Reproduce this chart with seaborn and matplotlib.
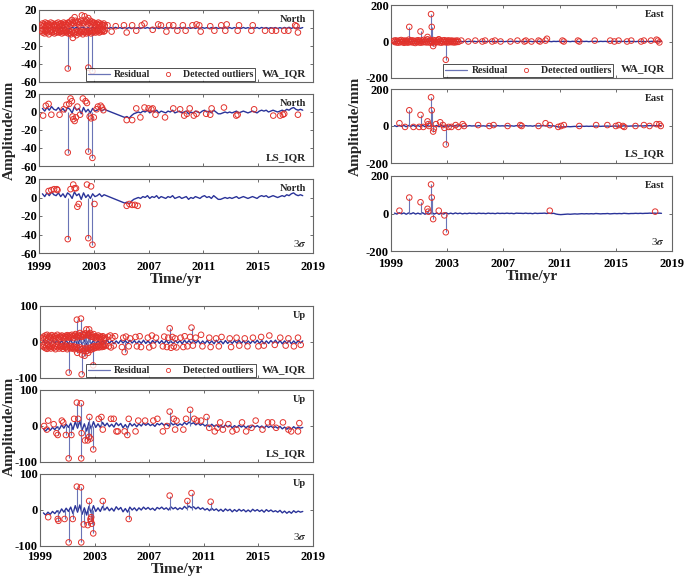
import numpy as np
import pandas as pd
import seaborn as sns
import matplotlib.pyplot as plt
from matplotlib.lines import Line2D

# residuals sampled every two months, 1999.25 .. 2018.25 (115 samples)
time = 1999.25 + np.arange(115) / 6

north_ls = [4, 1, 5, 2, 6, 3,
            2, 5, 1, 4, 0, 5,
            3, -1, 6, 2, 4, -2,
            5, 0, 3, -1, 4, 1,
            2, 4, 1, 3, 2, 1,
            0, -1, -2, -3, -4, -5,
            -6, -5, -7, -4, -2, -1,
            0, -1, 1, 0, 2, -1,
            1, 0, 2, -1, 1, 0,
            -1, 1, 0, 2, -1, 0,
            1, -1, 0, 1, -2, 0,
            -1, 1, 0, -1, 1, 2,
            0, 1, -1, 2, 0, -2,
            -2, -1, 0, -1, 0, -1,
            0, 1, -1, 0, 1, 0,
            -1, 0, 1, 0, -1, 1,
            2, 1, 2, 0, 1, 2,
            1, 0, 1, 2, 1, 3,
            2, 4, 5, 3, 2, 3,
            2]
north_wa = [1, -1, 0.5, -0.5, 1, -1,
            0.5, -1, 1, -0.5, 1.5, -1,
            -1, 1, -0.5, 1, -1, 0.5,
            1, -1.5, 0.5, -1, 1, -0.5,
            0.5, -0.5, 1, -1, 0.5, -0.5,
            0.5, -0.5, 0.8, -0.3, 0.4, -0.6,
            0.6, -0.4, 0.5, -0.7, 0.3, -0.5,
            0.4, -0.6, 0.7, -0.3, 0.5, -0.4,
            0.5, -0.5, 0.3, -0.6, 0.6, -0.4,
            0.4, -0.3, 0.6, -0.5, 0.4, -0.6,
            0.5, -0.4, 0.7, -0.5, 0.3, -0.4,
            0.6, -0.5, 0.4, -0.6, 0.5, -0.3,
            0.4, -0.6, 0.5, -0.4, 0.6, -0.5,
            0.3, -0.5, 0.6, -0.4, 0.5, -0.6,
            0.5, -0.3, 0.4, -0.5, 0.6, -0.4,
            0.4, -0.5, 0.6, -0.3, 0.5, -0.6,
            0.6, -0.4, 0.5, -0.5, 0.4, -0.3,
            0.5, -0.6, 0.4, -0.5, 0.6, -0.4,
            0.8, -0.5, 0.6, -0.7, 0.5, -0.4,
            0.5]
east_ls = [2, -3, 4, -2, 3, -4,
           3, -2, 4, -3, 2, -3,
           4, -4, 3, -2, 5, -3,
           3, -4, 2, -3, 4, -2,
           2, -2, 3, -1, 2, -2,
           1, -1, 2, 0, 1, -1,
           2, 0, 1, -1, 2, 0,
           1, -1, 2, 0, 1, 0,
           2, 0, 1, -1, 2, 1,
           1, 0, 2, 0, 1, -1,
           2, 0, 1, 1, 2, 0,
           2, 0, 1, -3, -5, -6,
           -5, -4, -3, -4, -3, -2,
           -3, -2, -1, -2, -1, -2,
           -1, -2, 0, -1, -2, -1,
           -1, 0, -2, -1, 0, -1,
           0, -1, 1, 0, -1, 0,
           0, 1, 0, 1, 0, 1,
           1, 2, 1, 2, 1, 2,
           1]
east_wa = [2, -2, 3, -1, 2, -3,
           2, -2, 3, -2, 1, -2,
           3, -3, 2, -1, 3, -2,
           2, -3, 1, -2, 3, -1,
           1, -1, 2, -1, 1, -1,
           1, -1, 1, 0, 1, -1,
           1, 0, 1, -1, 1, 0,
           1, -1, 1, 0, 1, -1,
           1, 0, 1, -1, 1, 0,
           1, -1, 1, 0, 1, -1,
           1, 0, 1, -1, 1, 0,
           1, -1, 1, 0, 1, -1,
           1, 0, 1, -1, 1, 0,
           1, -1, 1, 0, 1, -1,
           1, 0, 1, -1, 1, 0,
           1, -1, 1, 0, 1, -1,
           1, 0, 1, -1, 1, 0,
           1, -1, 1, 0, 1, -1,
           1, 0, 1, -1, 1, 0,
           1]
up_ls = [-8, -14, -6, -12, -4, -10,
         -2, -9, 3, -6, 5, -4,
         8, -10, 12, -6, 14, -12,
         6, -14, 10, -8, 12, -4,
         6, -4, 10, 0, 8, -2,
         5, -3, 9, 1, 7, -5,
         4, -6, 8, 0, 6, -2,
         6, 0, 8, 2, 7, 1,
         5, -1, 7, 3, 8, 2,
         6, 0, 9, 3, 7, 1,
         6, 2, 10, 4, 11, 6,
         9, 3, 8, 2, 6, 0,
         4, -2, 5, -1, 3, -3,
         2, -4, 3, -2, 2, -5,
         1, -4, 2, -3, 1, -5,
         0, -5, 2, -3, 1, -4,
         0, -6, 1, -4, 0, -5,
         -2, -6, -1, -8, -3, -9,
         -4, -9, -2, -7, -3, -6,
         -4]
up_wa = [4, -5, 3, -6, 5, -4,
         6, -5, 4, -7, 5, -6,
         7, -8, 6, -9, 8, -7,
         6, -8, 7, -6, 5, -7,
         5, -6, 4, -5, 6, -4,
         4, -5, 3, -4, 5, -3,
         4, -4, 5, -3, 4, -5,
         3, -4, 5, -4, 3, -5,
         4, -3, 5, -4, 4, -5,
         5, -4, 3, -5, 4, -3,
         4, -5, 5, -3, 4, -4,
         5, -3, 4, -5, 3, -4,
         4, -4, 3, -5, 5, -3,
         3, -5, 4, -4, 3, -4,
         4, -3, 5, -4, 4, -5,
         3, -4, 4, -3, 5, -4,
         4, -5, 3, -4, 4, -3,
         5, -4, 4, -5, 3, -4,
         4, -5, 3, -4, 4, -3,
         3]

# dense early cluster of WA_IQR detections (upper and lower rows)
cluster_t = [1999.2, 1999.27, 1999.33, 1999.4, 1999.46, 1999.52, 1999.6, 1999.66, 1999.72, 1999.8,
             1999.86, 1999.93, 2000.0, 2000.07, 2000.13, 2000.2, 2000.27, 2000.33, 2000.4, 2000.47,
             2000.53, 2000.6, 2000.67, 2000.73, 2000.8, 2000.87, 2000.93, 2001.0, 2001.07, 2001.13,
             2001.2, 2001.27, 2001.33, 2001.4, 2001.47, 2001.53, 2001.6, 2001.67, 2001.73, 2001.8,
             2001.87, 2001.93, 2002.0, 2002.07, 2002.13, 2002.2, 2002.27, 2002.33, 2002.4, 2002.47,
             2002.53, 2002.6, 2002.67, 2002.73, 2002.8, 2002.87, 2002.93, 2003.0, 2003.07, 2003.13,
             2003.2, 2003.27, 2003.33, 2003.4, 2003.47, 2003.53, 2003.6, 2003.67, 2003.73, 2003.8]
north_wa_hi = [3, 5, 2, 4, 6, 3, 5, 2, 4, 3, 6, 2, 5, 3, 4, 2, 5, 3, 6, 4,
               2, 5, 3, 4, 6, 3, 5, 4, 3, 6, 5, 7, 4, 9, 6, 5, 12, 8, 6, 5,
               7, 4, 6, 8, 14, 6, 5, 13, 7, 9, 5, 11, 6, 8, 4, 7, 5, 6, 4, 3,
               5, 4, 6, 3, 5, 2, 4, 3, 5, 3]
north_wa_lo = [-3, -5, -2, -6, -4, -3, -5, -2, -7, -4, -3, -5, -2, -4, -6, -3, -5, -4, -2, -5,
               -3, -4, -6, -3, -5, -4, -3, -5, -4, -6, -3, -5, -7, -4, -11, -5, -6, -4, -8, -5,
               -3, -6, -4, -5, -3, -7, -4, -5, -3, -6, -4, -5, -3, -4, -6, -3, -5, -4, -3, -5,
               -2, -4, -3, -5, -2, -4, -3, -2, -4, -3]
east_wa_mid = [4, -3, 6, -5, 3, -6, 5, -4, 8, -3, 4, -7, 5, -4, 3, -6, 10, -3, 5, -4,
               6, -5, 3, -8, 4, -3, 7, -5, 4, -6, 5, -4, 9, -3, 6, -5, 12, -4, 5, -6,
               4, -3, 8, -10, 5, -4, 6, -3, 12, -5, 4, -6, 5, -3, 7, -4, 3, -5, 6, -4,
               4, -3, 5, -4, 3, -5, 4, -3, 5, -2]
up_wa_hi = [10, 15, 8, 18, 12, 20, 9, 14, 16, 11, 19, 8, 13, 17, 10, 15, 20, 12, 9, 16,
            14, 18, 11, 15, 10, 17, 13, 19, 15, 12, 18, 14, 20, 16, 11, 18, 22, 15, 13, 20,
            17, 25, 16, 14, 22, 19, 18, 24, 35, 20, 22, 17, 25, 15, 19, 14, 22, 12, 16, 10,
            14, 18, 11, 15, 9, 13, 16, 10, 12, 8]
up_wa_lo = [-10, -14, -8, -17, -12, -19, -9, -15, -11, -18, -13, -8, -16, -12, -20, -10, -14, -9, -18, -12,
            -15, -11, -19, -13, -9, -16, -12, -20, -14, -10, -17, -13, -18, -15, -12, -20, -16, -14, -30, -18,
            -22, -15, -20, -35, -18, -25, -38, -20, -16, -24, -30, -18, -22, -15, -20, -13, -18, -11, -16, -12,
            -14, -10, -15, -12, -9, -14, -11, -13, -8, -10]

# sparse / spike detections
north_wa_t = [2001.1, 2002.6, 2002.9,
              2004.0, 2004.3, 2004.6, 2005.2, 2005.4, 2005.8, 2006.1, 2006.5, 2006.7, 2007.3,
              2007.7, 2007.9, 2008.3, 2008.5, 2008.8, 2009.1, 2009.5, 2009.7, 2010.2, 2010.5,
              2010.7, 2010.8, 2011.5, 2011.8, 2012.3, 2012.6, 2012.7, 2013.5, 2013.6, 2014.5,
              2014.6, 2015.5, 2016.0, 2016.3, 2016.9, 2017.2, 2017.7, 2017.8, 2017.9]
north_wa_v = [-45, -44, -48,
              3, -4, 2, 3, -5, 3, -3, 3, 5, -2,
              4, 3, -4, 3, 3, -3, 3, -3, 3, 4,
              3, -4, 2, -3, 3, -3, 4, -3, 3, -3,
              3, -3, -3, -3, -3, -3, 3, 2, -5]
north_ls_t = [1999.3, 1999.5, 1999.7, 1999.9, 2000.5, 2000.8, 2001.0, 2001.1, 2001.2, 2001.3,
              2001.4, 2001.45, 2001.5, 2001.6, 2001.7, 2001.8, 2002.0, 2002.2, 2002.4, 2002.5,
              2002.6, 2002.7, 2002.8, 2002.9, 2003.0, 2003.2, 2003.3, 2003.5, 2003.6, 2003.7,
              2005.4, 2005.8, 2006.1, 2006.4, 2006.7, 2007.0, 2007.2, 2007.3, 2007.5, 2008.2,
              2008.8, 2009.3, 2009.6, 2009.8, 2010.0, 2010.3, 2010.5, 2011.2, 2011.5, 2011.6,
              2012.5, 2013.4, 2013.5, 2014.7, 2016.1, 2016.6, 2016.8, 2016.9, 2017.9]
north_ls_v = [-4, 7, 9, -3, -3, 3, 8, -45, 9, 15,
              12, -5, -8, -10, -6, 6, -3, 15, 12, 10,
              -44, -5, -7, -51, -6, 3, 6, 7, 5, 2,
              -9, -9, 4, -6, 5, 4, 3, 4, -3, -6,
              4, 3, -4, -2, 4, -4, -2, -2, -3, 4,
              5, -4, -3, 3, -4, -4, -3, -2, -3]
north_3s_t = [1999.7, 1999.9, 2000.1, 2000.3, 2000.35, 2001.1, 2001.3, 2001.5, 2001.6, 2001.7,
              2001.8, 2001.9, 2002.5, 2002.6, 2002.8, 2002.9, 2003.05, 2005.4, 2005.6, 2005.8,
              2006.0, 2006.2]
north_3s_v = [7, 8, 9, 9, 8, -45, 9, 14, 10, 10,
              -10, -7, 14, -44, 12, -51, -7, -9, -7, -8,
              -8, -9]

east_wa_t = [2000.3, 2001.1, 2001.6, 2001.85, 2001.9, 2002.0, 2002.4, 2002.9,
             2004.0, 2004.5, 2005.0, 2005.5, 2005.7, 2006.2, 2006.4, 2006.8, 2007.5, 2008.0,
             2008.5, 2008.6, 2009.0, 2009.5, 2009.6, 2010.0, 2010.1, 2011.2, 2011.3, 2012.3,
             2012.4, 2013.5, 2014.6, 2014.9, 2015.2, 2015.8, 2016.1, 2016.8, 2017.0, 2017.5,
             2017.9, 2018.0, 2018.1]
east_wa_v = [80, 55, 25, 150, 80, -25, 10, -100,
             5, 0, 5, 0, 5, 0, 5, 0, 0, 5,
             0, 5, 0, 5, 0, 5, 15, 5, 0, 5,
             0, 5, 5, 0, 5, 0, 5, 0, 5, 5,
             10, 5, -5]
east_ls_t = [1999.6, 2000.0, 2000.3, 2000.6, 2001.0, 2001.1, 2001.3, 2001.6, 2001.65, 2001.7,
             2001.85, 2001.9, 2002.0, 2002.05, 2002.2, 2002.5, 2002.7, 2002.8, 2002.9, 2003.1,
             2003.3, 2003.6, 2003.8, 2004.1, 2004.2, 2005.2, 2006.0, 2006.3, 2007.3, 2008.2,
             2008.3, 2009.5, 2010.0, 2010.3, 2010.9, 2011.1, 2011.3, 2012.4, 2013.6, 2014.4,
             2015.0, 2015.2, 2015.5, 2015.6, 2016.4, 2017.0, 2017.4, 2017.9, 2018.1, 2018.2]
east_ls_v = [15, -5, 85, -5, -5, 60, -5, 25, 10, 0,
             155, 85, -30, -15, 10, 20, 5, -10, -100, -5,
             -5, 5, -5, 10, 0, 5, 0, 5, 0, 5,
             0, 0, 15, 5, -5, 0, 5, 0, 5, 5,
             0, 5, 0, -5, 0, 5, 0, 10, 10, 0]
east_3s_t = [1999.6, 2000.3, 2001.1, 2001.6, 2001.65, 2001.85, 2001.9, 2002.0, 2002.4, 2002.8,
             2002.9, 2010.3, 2017.8]
east_3s_v = [15, 85, 60, 25, 10, 155, 85, -30, 15, -10,
             -100, 15, 10]

up_wa_t = [2001.1, 2001.7, 2002.0, 2002.05, 2002.6, 2002.9,
           2004.0, 2004.05, 2004.15, 2004.2, 2004.3, 2004.4, 2004.5, 2005.0, 2005.1, 2005.2,
           2005.3, 2005.5, 2005.6, 2006.0, 2006.1, 2006.3, 2006.4, 2006.9, 2007.0, 2007.2,
           2007.3, 2007.5, 2008.0, 2008.1, 2008.3, 2008.4, 2008.5, 2008.6, 2008.7, 2008.8,
           2008.9, 2009.0, 2009.3, 2009.5, 2009.6, 2009.8, 2010.0, 2010.1, 2010.2, 2010.4,
           2010.8, 2010.9, 2011.4, 2011.5, 2011.9, 2012.1, 2012.3, 2012.9, 2013.0, 2013.4,
           2013.6, 2014.0, 2014.2, 2014.6, 2015.0, 2015.2, 2015.4, 2015.8, 2016.2, 2016.6,
           2017.0, 2017.2, 2017.6, 2017.9, 2018.1]
up_wa_v = [-85, 62, 65, -90, 35, -65,
           15, -12, 18, -15, 12, -10, 16, -14, 12, -28,
           15, -12, 10, 14, -12, 16, -14, 12, -15, 18,
           -10, 12, -12, 15, -14, 12, 38, -16, 14, -12,
           10, -15, 12, -14, 16, -12, 14, 40, -10, 12,
           20, -12, 12, -14, 10, -12, 14, 10, -14, 12,
           -10, 10, -12, 12, -12, 14, -10, 18, -8, 12,
           -10, 10, -12, 12, -8]
up_ls_t = [1999.3, 1999.5, 1999.6, 2000.0, 2000.2, 2000.3, 2000.6, 2000.7, 2000.9, 2001.1,
           2001.3, 2001.5, 2001.7, 2001.8, 2002.0, 2002.02, 2002.05, 2002.3, 2002.5, 2002.6,
           2002.62, 2002.7, 2002.9, 2003.3, 2003.5, 2003.6, 2004.2, 2004.4, 2004.6, 2004.7,
           2005.2, 2005.4, 2005.5, 2006.0, 2006.2, 2006.7, 2007.3, 2007.6, 2008.0, 2008.3,
           2008.5, 2008.8, 2008.9, 2009.0, 2009.5, 2009.7, 2010.0, 2010.3, 2010.5, 2010.8,
           2011.2, 2011.4, 2011.8, 2012.0, 2012.2, 2012.4, 2012.8, 2013.1, 2013.4, 2013.8,
           2014.1, 2014.5, 2014.8, 2015.3, 2015.7, 2016.0, 2016.3, 2016.8, 2017.2, 2017.4,
           2017.9, 2018.0]
up_ls_v = [0, -10, 15, 5, -20, -25, 15, 10, -25, -90,
           -25, 20, 65, 20, 63, -90, -20, -40, -40, -30,
           25, -35, -65, 20, 25, -10, 20, 20, -15, -15,
           -15, -25, 20, -15, 15, 15, 15, 20, -15, 0,
           40, 20, -10, 15, -10, 20, 45, 20, 15, 15,
           25, -5, -15, -5, 10, -10, 5, -15, -10, 10,
           -15, -5, 15, -10, 10, 10, -5, 10, -10, -15,
           -15, 8]
up_3s_t = [1999.6, 2000.3, 2000.35, 2000.8, 2001.1, 2001.4, 2001.7, 2002.0, 2002.02, 2002.2,
           2002.5, 2002.6, 2002.7, 2002.72, 2002.75, 2002.8, 2002.9, 2003.6, 2005.5, 2008.5,
           2009.8, 2010.1, 2011.5]
up_3s_v = [-20, -25, -30, -25, -90, -25, 65, 63, -90, -40,
           -42, 25, -25, -30, -20, -38, -65, 25, -25, 40,
           25, 47, 23]

years = [1999, 2003, 2007, 2011, 2015, 2019]

sns.set_theme(style="ticks")
plt.rcParams["font.family"] = ["Liberation Serif", "DejaVu Serif"]
plt.rcParams["font.weight"] = "bold"
plt.rcParams["mathtext.fontset"] = "stix"
plt.rcParams["axes.unicode_minus"] = False

BLUE = "#2a3399"
SPIKE = "#6a74b6"
RED = "#e2322c"

fig = plt.figure(figsize=(6.85, 5.83), dpi=100)
W, H = 685, 583


def add_ax(x0, x1, y0, y1):
    return fig.add_axes([x0 / W, 1 - y1 / H, (x1 - x0) / W, (y1 - y0) / H])


def panel(ax, res, ot, ov, lim, ticks, comp, meth, thr, legend=False, bottom=False, xpad=3.5):
    sns.lineplot(x=time, y=res, ax=ax, color=BLUE, lw=1.0, estimator=None, sort=False)
    big = [(a, b) for a, b in zip(ot, ov) if abs(b) >= thr]
    if big:
        ax.vlines([a for a, b in big], 0, [b for a, b in big], color=SPIKE, lw=0.8, zorder=2)
    sns.scatterplot(x=ot, y=ov, ax=ax, marker="o", s=16, fc="none", ec=RED,
                    linewidth=0.7, zorder=3)
    ax.set_xlim(1999, 2019)
    ax.set_ylim(*lim)
    ax.set_yticks(ticks)
    ax.set_yticklabels([str(v) for v in ticks], fontsize=9, fontweight="bold")
    ax.set_xticks(years)
    if bottom:
        ax.set_xticklabels([str(y) for y in years], fontsize=9, fontweight="bold")
        ax.set_xlabel("Time/yr", fontsize=11, fontweight="bold", labelpad=0)
    else:
        ax.set_xticklabels([])
    ax.set_ylabel("")
    ax.tick_params(direction="in", top=True, right=True, length=2.5, width=0.6,
                   pad=1.5, colors="#555555", labelcolor="black")
    ax.tick_params(axis="x", pad=xpad)
    for s in ax.spines.values():
        s.set_color("#666666")
        s.set_linewidth(0.8)
    ax.text(0.975, 0.93, comp, transform=ax.transAxes, ha="right", va="top",
            fontsize=7.5, fontweight="bold")
    if meth == "3s":
        ax.text(0.975, 0.06, "3$\\sigma$", transform=ax.transAxes, ha="right",
                va="bottom", fontsize=8, fontweight="normal")
    else:
        ax.text(0.975, 0.06, meth, transform=ax.transAxes, ha="right", va="bottom",
                fontsize=8, fontweight="bold")
    if legend:
        h = [Line2D([], [], color=SPIKE, lw=0.9),
             Line2D([], [], ls="none", marker="o", ms=3, mfc="none", mec=RED, mew=0.6)]
        lg = ax.legend(h, ["Residual", "Detected outliers"], loc="lower right",
                       bbox_to_anchor=(0.79, 0.015), fontsize=7, frameon=True,
                       fancybox=False, borderpad=0.2, handlelength=2.3,
                       handletextpad=0.4, columnspacing=0.7, ncol=2, borderaxespad=0)
        lg.get_frame().set_edgecolor("black")
        lg.get_frame().set_linewidth(0.6)


groups = [
    dict(x=(39, 313), rows=[(10, 82), (94, 166), (179, 253)], comp="North",
         lim=(-60, 20), ticks=[-60, -40, -20, 0, 20], thr=18, xpad=5.5,
         wa=north_wa, ls=north_ls,
         wa_t=cluster_t + cluster_t + north_wa_t, wa_v=north_wa_hi + north_wa_lo + north_wa_v,
         ls_t=north_ls_t, ls_v=north_ls_v, s_t=north_3s_t, s_v=north_3s_v, lab=9),
    dict(x=(391, 672), rows=[(5, 78), (89, 163), (176, 251)], comp="East",
         lim=(-200, 200), ticks=[-200, 0, 200], thr=18, xpad=5,
         wa=east_wa, ls=east_ls,
         wa_t=cluster_t + east_wa_t, wa_v=east_wa_mid + east_wa_v,
         ls_t=east_ls_t, ls_v=east_ls_v, s_t=east_3s_t, s_v=east_3s_v, lab=355),
    dict(x=(40, 313), rows=[(306, 378), (390, 462), (474, 546)], comp="Up",
         lim=(-100, 100), ticks=[-100, 0, 100], thr=22, xpad=3.5,
         wa=up_wa, ls=up_ls,
         wa_t=cluster_t + cluster_t + up_wa_t, wa_v=up_wa_hi + up_wa_lo + up_wa_v,
         ls_t=up_ls_t, ls_v=up_ls_v, s_t=up_3s_t, s_v=up_3s_v, lab=9),
]

for g in groups:
    x0, x1 = g["x"]
    a1 = add_ax(x0, x1, *g["rows"][0])
    a2 = add_ax(x0, x1, *g["rows"][1])
    a3 = add_ax(x0, x1, *g["rows"][2])
    panel(a1, g["wa"], g["wa_t"], g["wa_v"], g["lim"], g["ticks"], g["comp"], "WA_IQR",
          g["thr"], legend=True)
    panel(a2, g["ls"], g["ls_t"], g["ls_v"], g["lim"], g["ticks"], g["comp"], "LS_IQR",
          g["thr"])
    panel(a3, g["ls"], g["s_t"], g["s_v"], g["lim"], g["ticks"], g["comp"], "3s",
          g["thr"], bottom=True, xpad=g["xpad"])
    yc = (g["rows"][1][0] + g["rows"][1][1]) / 2
    fig.text(g["lab"] / W, 1 - yc / H, "Amplitude/mm", rotation=90, ha="center",
             va="center", fontsize=11, fontweight="bold")

fig.savefig("out.png", dpi=100)
